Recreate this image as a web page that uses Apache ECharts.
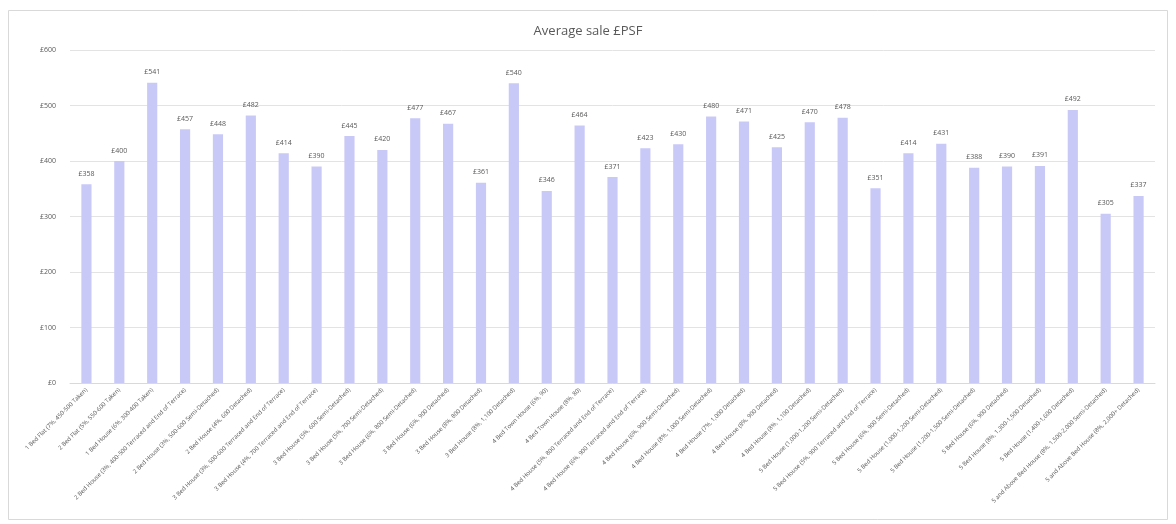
<!DOCTYPE html>
<html>
<head>
<meta charset="utf-8">
<title>Average sale £PSF</title>
<script src="https://cdn.jsdelivr.net/npm/echarts@6/dist/echarts.min.js"></script>
<style>
  html, body { margin: 0; padding: 0; background: #ffffff; }
  #chart { width: 1176px; height: 524px; }
</style>
</head>
<body>
<div id="chart"></div>
<script>
// Property types (bedrooms, yield, size band, build form)
const categories = [
  "1 Bed Flat (7%, 450-500 Taken)",
  "2 Bed Flat (5%, 550-600 Taken)",
  "1 Bed House (6%, 300-400 Taken)",
  "2 Bed House (3%, 400-500 Terraced and End of Terrace)",
  "2 Bed House (3%, 500-600 Semi-Detached)",
  "2 Bed House (4%, 600 Detached)",
  "3 Bed House (3%, 500-600 Terraced and End of Terrace)",
  "3 Bed House (4%, 700 Terraced and End of Terrace)",
  "3 Bed House (5%, 600 Semi-Detached)",
  "3 Bed House (5%, 700 Semi-Detached)",
  "3 Bed House (6%, 800 Semi-Detached)",
  "3 Bed House (6%, 900 Detached)",
  "3 Bed House (8%, 800 Detached)",
  "3 Bed House (8%, 1,100 Detached)",
  "4 Bed Town House (6%, 90)",
  "4 Bed Town House (8%, 80)",
  "4 Bed House (5%, 800 Terraced and End of Terrace)",
  "4 Bed House (6%, 900 Terraced and End of Terrace)",
  "4 Bed House (6%, 900 Semi-Detached)",
  "4 Bed House (8%, 1,000 Semi-Detached)",
  "4 Bed House (7%, 1,000 Detached)",
  "4 Bed House (8%, 900 Detached)",
  "4 Bed House (8%, 1,100 Detached)",
  "5 Bed House (1,000-1,200 Semi-Detached)",
  "5 Bed House (5%, 900 Terraced and End of Terrace)",
  "5 Bed House (6%, 900 Semi-Detached)",
  "5 Bed House (1,000-1,200 Semi-Detached)",
  "5 Bed House (1,200-1,500 Semi-Detached)",
  "5 Bed House (6%, 900 Detached)",
  "5 Bed House (8%, 1,300-1,500 Detached)",
  "5 Bed House (1,400-1,600 Detached)",
  "5 and Above Bed House (8%, 1,500-2,000 Semi-Detached)",
  "5 and Above Bed House (8%, 2,000+ Detached)"
];

// Average sale price per square foot, £
const avgPsf = [
  358, 400, 541, 457, 448, 482, 414, 390, 445, 420,
  477, 467, 361, 540, 346, 464, 371, 423, 430, 480,
  471, 425, 470, 478, 351, 414, 431, 388, 390, 391,
  492, 305, 337
];

// Value axis ticks
const yTicks = [0, 100, 200, 300, 400, 500, 600];

const textGrey = '#595959';
const chart = echarts.init(document.getElementById('chart'), null, { renderer: 'canvas' });

chart.setOption({
  backgroundColor: '#ffffff',
  animation: false,
  graphic: [{
    type: 'rect',
    shape: { x: 8.5, y: 10.5, width: 1159, height: 509 },
    style: { fill: 'none', stroke: '#d9d9d9', lineWidth: 1 },
    silent: true
  }],
  title: {
    text: 'Average sale £PSF',
    left: 'center',
    top: 20,
    textStyle: { fontFamily: 'Open Sans', fontSize: 13, fontWeight: 'normal', color: textGrey }
  },
  grid: { left: 70, right: 21, top: 50, bottom: 141 },
  xAxis: {
    type: 'category',
    data: categories,
    axisLine: { show: true, lineStyle: { color: '#d9d9d9' } },
    axisTick: { show: false },
    axisLabel: {
      interval: 0,
      rotate: 45,
      fontFamily: 'Open Sans',
      fontSize: 6,
      color: textGrey,
      margin: 6
    }
  },
  yAxis: {
    type: 'value',
    min: yTicks[0],
    max: yTicks[yTicks.length - 1],
    interval: yTicks[1] - yTicks[0],
    axisLine: { show: false },
    axisTick: { show: false },
    splitLine: { lineStyle: { color: '#e3e3e3', width: 1 } },
    axisLabel: {
      fontFamily: 'Open Sans',
      fontSize: 7,
      color: textGrey,
      margin: 14,
      formatter: v => '£' + v
    }
  },
  series: [{
    type: 'bar',
    data: avgPsf,
    barWidth: '31%',
    itemStyle: { color: '#c9c9f8' },
    label: {
      show: true,
      position: 'top',
      distance: 7,
      fontFamily: 'Open Sans',
      fontSize: 7,
      color: textGrey,
      formatter: p => '£' + p.value
    }
  }]
});
</script>
</body>
</html>
